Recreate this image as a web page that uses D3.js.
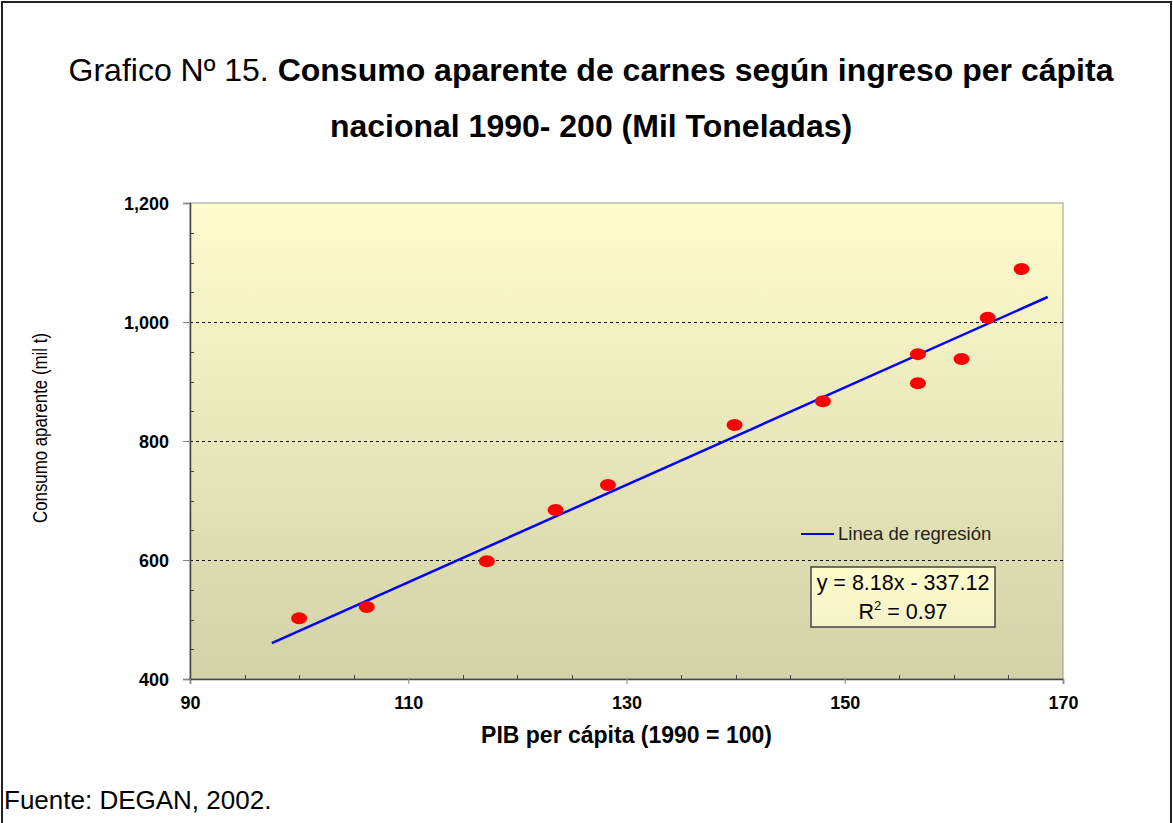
<!DOCTYPE html>
<html>
<head>
<meta charset="utf-8">
<script src="https://cdn.jsdelivr.net/npm/d3@7"></script>
<style>
  body { margin: 0; background: #fff; }
  svg { display: block; font-family: "Liberation Sans", Arial, sans-serif; }
</style>
</head>
<body>
<div id="chart"></div>
<script>
// PIB per capita index (1990 = 100) and apparent meat consumption (thousand t)
var pib = [100, 106.2, 117.2, 123.5, 128.3, 139.9, 148.0, 156.7, 156.7, 160.7, 163.1, 166.2];
var consumo = [502, 521, 598, 684, 726, 827, 867, 946, 897, 938, 1007, 1089];

var regSlope = 8.18;
var regIntercept = -337.12;
var regRange = [97.5, 168.6];

var xTicks = [90, 110, 130, 150, 170];
var yTicks = [400, 600, 800, 1000, 1200];
var gridValues = [600, 800, 1000];

var width = 1173;
var height = 823;

var plot = { left: 190, right: 1063, top: 203, bottom: 679 };

var svg = d3.select('#chart').append('svg').attr('width', width).attr('height', height);

var defs = svg.append('defs');
var grad = defs.append('linearGradient').attr('id', 'bg').attr('x1', 0).attr('y1', 0).attr('x2', 0).attr('y2', 1);
grad.append('stop').attr('offset', '0%').attr('stop-color', '#fffdcd');
grad.append('stop').attr('offset', '100%').attr('stop-color', '#d2d1a8');

var boxGrad = defs.append('linearGradient').attr('id', 'boxbg').attr('x1', 0).attr('y1', 0).attr('x2', 0).attr('y2', 1);
boxGrad.append('stop').attr('offset', '0%').attr('stop-color', '#fffdcc');
boxGrad.append('stop').attr('offset', '100%').attr('stop-color', '#f4f2c8');

// outer frame
svg.append('path')
  .attr('d', 'M2,' + height + ' V2 H1171 V' + height)
  .attr('fill', 'none').attr('stroke', '#222').attr('stroke-width', 2);

// title
var title = svg.append('text').attr('x', 591).attr('y', 81).attr('text-anchor', 'middle')
  .style('font-size', '32px').attr('fill', '#000');
title.append('tspan').text('Grafico Nº 15. ');
title.append('tspan').attr('font-weight', 'bold').text('Consumo aparente de carnes según ingreso per cápita');
svg.append('text').attr('x', 591).attr('y', 137).attr('text-anchor', 'middle')
  .style('font-size', '32px').attr('font-weight', 'bold').text('nacional 1990- 200 (Mil Toneladas)');

var x = d3.scaleLinear().domain([90, 170]).range([plot.left, plot.right]);
var y = d3.scaleLinear().domain([400, 1200]).range([plot.bottom, plot.top]);

// plot background
svg.append('rect')
  .attr('x', plot.left).attr('y', plot.top)
  .attr('width', plot.right - plot.left).attr('height', plot.bottom - plot.top)
  .attr('fill', 'url(#bg)').attr('stroke', '#9a9a9a').attr('stroke-width', 1);

// gridlines
svg.selectAll('.grid').data(gridValues).enter().append('line')
  .attr('class', 'grid')
  .attr('x1', plot.left).attr('x2', plot.right)
  .attr('y1', function (d) { return Math.round(y(d)) + 0.5; })
  .attr('y2', function (d) { return Math.round(y(d)) + 0.5; })
  .attr('stroke', '#111').attr('stroke-width', 1).attr('stroke-dasharray', '3,3');

// minor ticks (inside)
var yMinor = d3.range(450, 1200, 50).filter(function (d) { return d % 200 !== 0; });
svg.selectAll('.ymin').data(yMinor).enter().append('line')
  .attr('x1', plot.left).attr('x2', plot.left + 4)
  .attr('y1', function (d) { return Math.round(y(d)) + 0.5; })
  .attr('y2', function (d) { return Math.round(y(d)) + 0.5; })
  .attr('stroke', '#444');
var xMinor = d3.range(95, 170, 5).filter(function (d) { return (d - 90) % 20 !== 0; });
svg.selectAll('.xmin').data(xMinor).enter().append('line')
  .attr('y1', plot.bottom).attr('y2', plot.bottom - 4)
  .attr('x1', function (d) { return Math.round(x(d)) + 0.5; })
  .attr('x2', function (d) { return Math.round(x(d)) + 0.5; })
  .attr('stroke', '#444');

// axes
var yAxis = d3.axisLeft(y).tickValues(yTicks).tickSize(7).tickPadding(14).tickFormat(d3.format(','));
var xAxis = d3.axisBottom(x).tickValues(xTicks).tickSize(5).tickPadding(12).tickFormat(d3.format('d'));

var gy = svg.append('g').attr('transform', 'translate(' + plot.left + ',0)').call(yAxis);
var gx = svg.append('g').attr('transform', 'translate(0,' + plot.bottom + ')').call(xAxis);

[gx, gy].forEach(function (g) {
  g.select('.domain').attr('stroke', '#444').attr('stroke-width', 1.5);
  g.selectAll('.tick line').attr('stroke', '#888');
  g.selectAll('.tick text').attr('fill', '#000')
    .style('font-family', '"Liberation Sans", Arial, sans-serif')
    .style('font-size', '18px').style('font-weight', 'bold');
});
gy.selectAll('.tick text').attr('dy', '0.36em');

// axis titles
svg.append('text')
  .attr('transform', 'translate(47,428) rotate(-90)')
  .attr('text-anchor', 'middle')
  .attr('textLength', 190).attr('lengthAdjust', 'spacingAndGlyphs')
  .style('font-size', '21px').text('Consumo aparente (mil t)');

svg.append('text').attr('x', (plot.left + plot.right) / 2).attr('y', 743)
  .attr('text-anchor', 'middle').style('font-size', '23px').attr('font-weight', 'bold')
  .text('PIB per cápita (1990 = 100)');

// regression line
svg.append('line')
  .attr('x1', x(regRange[0])).attr('y1', y(regSlope * regRange[0] + regIntercept))
  .attr('x2', x(regRange[1])).attr('y2', y(regSlope * regRange[1] + regIntercept))
  .attr('stroke', '#0000ff').attr('stroke-width', 2.5);

// points
svg.selectAll('.pt').data(pib).enter().append('ellipse')
  .attr('class', 'pt')
  .attr('cx', function (d) { return x(d); })
  .attr('cy', function (d, i) { return y(consumo[i]); })
  .attr('rx', 8).attr('ry', 6)
  .attr('fill', '#ff0000');

// legend
svg.append('line').attr('x1', 801).attr('x2', 834).attr('y1', 534).attr('y2', 534)
  .attr('stroke', '#0000ff').attr('stroke-width', 2);
svg.append('text').attr('x', 838).attr('y', 540).style('font-size', '18.5px').attr('fill', '#222')
  .text('Linea de regresión');

// equation box
svg.append('rect').attr('x', 811).attr('y', 567).attr('width', 184).attr('height', 60)
  .attr('fill', 'url(#boxbg)').attr('stroke', '#444').attr('stroke-width', 1.5);
svg.append('text').attr('x', 903).attr('y', 590).attr('text-anchor', 'middle')
  .style('font-size', '21.5px').text('y = ' + regSlope.toFixed(2) + 'x - ' + Math.abs(regIntercept).toFixed(2));
var r2 = svg.append('text').attr('x', 903).attr('y', 619).attr('text-anchor', 'middle').style('font-size', '21.5px');
r2.append('tspan').text('R');
r2.append('tspan').attr('dy', -9).style('font-size', '13px').text('2');
r2.append('tspan').attr('dy', 9).text(' = 0.97');

// source
svg.append('text').attr('x', 4).attr('y', 809).style('font-size', '26px').text('Fuente: DEGAN, 2002.');
</script>
</body>
</html>
